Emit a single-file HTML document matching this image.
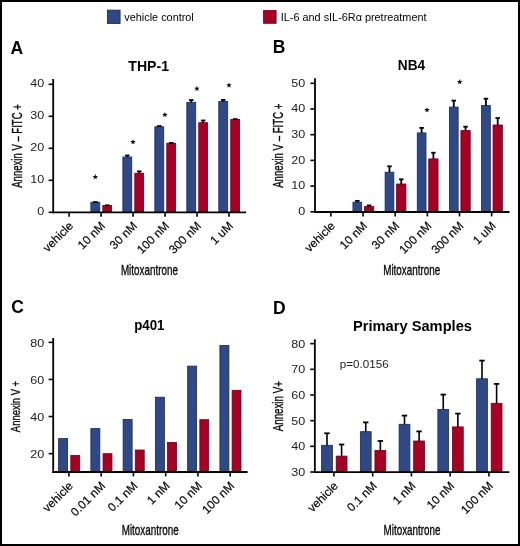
<!DOCTYPE html>
<html><head><meta charset="utf-8"><style>
html,body{margin:0;padding:0;background:#fff;}
body{width:520px;height:546px;overflow:hidden;}
svg{display:block;font-family:"Liberation Sans",sans-serif;will-change:transform;}
</style></head><body>
<svg width="520" height="546" viewBox="0 0 520 546">
<rect x="0" y="0" width="520" height="546" fill="#fff"/>
<text x="10.60" y="53.80" font-size="17.5" text-anchor="start" font-weight="bold" fill="#000">A</text>
<text x="148.70" y="70.80" font-size="14" text-anchor="middle" font-weight="bold" textLength="40.70" lengthAdjust="spacingAndGlyphs" fill="#000">THP-1</text>
<rect x="90.88" y="202.20" width="8.90" height="10.10" fill="#2f4986" stroke="#1a2850" stroke-width="0.8"/>
<rect x="102.83" y="205.40" width="8.85" height="6.90" fill="#a70025" stroke="#6a0018" stroke-width="0.8"/>
<rect x="122.86" y="157.00" width="8.90" height="55.30" fill="#2f4986" stroke="#1a2850" stroke-width="0.8"/>
<rect x="134.81" y="173.20" width="8.85" height="39.10" fill="#a70025" stroke="#6a0018" stroke-width="0.8"/>
<rect x="154.84" y="126.80" width="8.90" height="85.50" fill="#2f4986" stroke="#1a2850" stroke-width="0.8"/>
<rect x="166.79" y="143.20" width="8.85" height="69.10" fill="#a70025" stroke="#6a0018" stroke-width="0.8"/>
<rect x="186.82" y="102.30" width="8.90" height="110.00" fill="#2f4986" stroke="#1a2850" stroke-width="0.8"/>
<rect x="198.77" y="122.70" width="8.85" height="89.60" fill="#a70025" stroke="#6a0018" stroke-width="0.8"/>
<rect x="218.80" y="101.40" width="8.90" height="110.90" fill="#2f4986" stroke="#1a2850" stroke-width="0.8"/>
<rect x="230.75" y="119.40" width="8.85" height="92.90" fill="#a70025" stroke="#6a0018" stroke-width="0.8"/>
<line x1="95.33" y1="202.30" x2="95.33" y2="202.10" stroke="#000" stroke-width="1.8"/>
<line x1="93.08" y1="202.10" x2="97.58" y2="202.10" stroke="#000" stroke-width="1.8"/>
<line x1="107.25" y1="205.50" x2="107.25" y2="205.30" stroke="#000" stroke-width="1.8"/>
<line x1="105.00" y1="205.30" x2="109.50" y2="205.30" stroke="#000" stroke-width="1.8"/>
<line x1="127.31" y1="157.10" x2="127.31" y2="155.50" stroke="#000" stroke-width="1.8"/>
<line x1="125.06" y1="155.50" x2="129.56" y2="155.50" stroke="#000" stroke-width="1.8"/>
<line x1="139.24" y1="173.30" x2="139.24" y2="171.40" stroke="#000" stroke-width="1.8"/>
<line x1="136.99" y1="171.40" x2="141.49" y2="171.40" stroke="#000" stroke-width="1.8"/>
<line x1="159.29" y1="126.90" x2="159.29" y2="126.10" stroke="#000" stroke-width="1.8"/>
<line x1="157.04" y1="126.10" x2="161.54" y2="126.10" stroke="#000" stroke-width="1.8"/>
<line x1="171.22" y1="143.30" x2="171.22" y2="143.00" stroke="#000" stroke-width="1.8"/>
<line x1="168.97" y1="143.00" x2="173.47" y2="143.00" stroke="#000" stroke-width="1.8"/>
<line x1="191.27" y1="102.40" x2="191.27" y2="100.10" stroke="#000" stroke-width="1.8"/>
<line x1="189.02" y1="100.10" x2="193.52" y2="100.10" stroke="#000" stroke-width="1.8"/>
<line x1="203.19" y1="122.80" x2="203.19" y2="120.50" stroke="#000" stroke-width="1.8"/>
<line x1="200.94" y1="120.50" x2="205.44" y2="120.50" stroke="#000" stroke-width="1.8"/>
<line x1="223.25" y1="101.50" x2="223.25" y2="99.90" stroke="#000" stroke-width="1.8"/>
<line x1="221.00" y1="99.90" x2="225.50" y2="99.90" stroke="#000" stroke-width="1.8"/>
<line x1="235.18" y1="119.50" x2="235.18" y2="119.10" stroke="#000" stroke-width="1.8"/>
<line x1="232.93" y1="119.10" x2="237.43" y2="119.10" stroke="#000" stroke-width="1.8"/>
<line x1="53.20" y1="79.00" x2="53.20" y2="213.20" stroke="#000" stroke-width="1.8"/>
<line x1="52.30" y1="212.30" x2="246.10" y2="212.30" stroke="#000" stroke-width="1.8"/>
<line x1="48.60" y1="212.30" x2="53.20" y2="212.30" stroke="#000" stroke-width="1.6"/>
<text x="44.20" y="215.30" font-size="11.8" text-anchor="end" textLength="7.00" lengthAdjust="spacingAndGlyphs" fill="#222">0</text>
<line x1="48.60" y1="180.30" x2="53.20" y2="180.30" stroke="#000" stroke-width="1.6"/>
<text x="44.20" y="183.30" font-size="11.8" text-anchor="end" textLength="14.00" lengthAdjust="spacingAndGlyphs" fill="#222">10</text>
<line x1="48.60" y1="148.30" x2="53.20" y2="148.30" stroke="#000" stroke-width="1.6"/>
<text x="44.20" y="151.30" font-size="11.8" text-anchor="end" textLength="14.00" lengthAdjust="spacingAndGlyphs" fill="#222">20</text>
<line x1="48.60" y1="116.30" x2="53.20" y2="116.30" stroke="#000" stroke-width="1.6"/>
<text x="44.20" y="119.30" font-size="11.8" text-anchor="end" textLength="14.00" lengthAdjust="spacingAndGlyphs" fill="#222">30</text>
<line x1="48.60" y1="84.30" x2="53.20" y2="84.30" stroke="#000" stroke-width="1.6"/>
<text x="44.20" y="87.30" font-size="11.8" text-anchor="end" textLength="14.00" lengthAdjust="spacingAndGlyphs" fill="#222">40</text>
<line x1="69.10" y1="212.30" x2="69.10" y2="216.70" stroke="#000" stroke-width="1.6"/>
<line x1="101.08" y1="212.30" x2="101.08" y2="216.70" stroke="#000" stroke-width="1.6"/>
<line x1="133.06" y1="212.30" x2="133.06" y2="216.70" stroke="#000" stroke-width="1.6"/>
<line x1="165.04" y1="212.30" x2="165.04" y2="216.70" stroke="#000" stroke-width="1.6"/>
<line x1="197.02" y1="212.30" x2="197.02" y2="216.70" stroke="#000" stroke-width="1.6"/>
<line x1="229.00" y1="212.30" x2="229.00" y2="216.70" stroke="#000" stroke-width="1.6"/>
<text x="21.80" y="146.00" font-size="14.5" text-anchor="middle" stroke="#111" stroke-width="0.35" textLength="83.50" lengthAdjust="spacingAndGlyphs" transform="rotate(-90 21.80 146.00)">Annexin V &#8211; FITC +</text>
<text x="73.90" y="226.50" font-size="11.9" text-anchor="end" stroke="#111" stroke-width="0.2" transform="rotate(-45 73.90 226.50)">vehicle</text>
<text x="105.88" y="226.50" font-size="11.9" text-anchor="end" stroke="#111" stroke-width="0.2" transform="rotate(-45 105.88 226.50)">10 nM</text>
<text x="137.86" y="226.50" font-size="11.9" text-anchor="end" stroke="#111" stroke-width="0.2" transform="rotate(-45 137.86 226.50)">30 nM</text>
<text x="169.84" y="226.50" font-size="11.9" text-anchor="end" stroke="#111" stroke-width="0.2" transform="rotate(-45 169.84 226.50)">100 nM</text>
<text x="201.82" y="226.50" font-size="11.9" text-anchor="end" stroke="#111" stroke-width="0.2" transform="rotate(-45 201.82 226.50)">300 nM</text>
<text x="233.80" y="226.50" font-size="11.9" text-anchor="end" stroke="#111" stroke-width="0.2" transform="rotate(-45 233.80 226.50)">1 uM</text>
<text x="149.40" y="274.70" font-size="14.5" text-anchor="middle" stroke="#111" stroke-width="0.35" textLength="57.00" lengthAdjust="spacingAndGlyphs">Mitoxantrone</text>
<polygon points="95.30,174.10 96.02,176.01 98.06,176.10 96.46,177.38 97.00,179.35 95.30,178.22 93.60,179.35 94.14,177.38 92.54,176.10 94.58,176.01" fill="#111"/>
<polygon points="133.00,139.10 133.72,141.01 135.76,141.10 134.16,142.38 134.70,144.35 133.00,143.22 131.30,144.35 131.84,142.38 130.24,141.10 132.28,141.01" fill="#111"/>
<polygon points="164.90,111.90 165.62,113.81 167.66,113.90 166.06,115.18 166.60,117.15 164.90,116.02 163.20,117.15 163.74,115.18 162.14,113.90 164.18,113.81" fill="#111"/>
<polygon points="196.90,85.80 197.62,87.71 199.66,87.80 198.06,89.08 198.60,91.05 196.90,89.92 195.20,91.05 195.74,89.08 194.14,87.80 196.18,87.71" fill="#111"/>
<polygon points="229.00,82.40 229.72,84.31 231.76,84.40 230.16,85.68 230.70,87.65 229.00,86.52 227.30,87.65 227.84,85.68 226.24,84.40 228.28,84.31" fill="#111"/>
<text x="272.80" y="53.20" font-size="17.5" text-anchor="start" font-weight="bold" fill="#000">B</text>
<text x="411.50" y="69.80" font-size="14" text-anchor="middle" font-weight="bold" textLength="27.30" lengthAdjust="spacingAndGlyphs" fill="#000">NB4</text>
<rect x="352.95" y="202.20" width="8.75" height="9.80" fill="#2f4986" stroke="#1a2850" stroke-width="0.8"/>
<rect x="364.45" y="206.60" width="9.30" height="5.40" fill="#a70025" stroke="#6a0018" stroke-width="0.8"/>
<rect x="385.10" y="172.20" width="8.75" height="39.80" fill="#2f4986" stroke="#1a2850" stroke-width="0.8"/>
<rect x="396.60" y="184.00" width="9.30" height="28.00" fill="#a70025" stroke="#6a0018" stroke-width="0.8"/>
<rect x="417.25" y="132.90" width="8.75" height="79.10" fill="#2f4986" stroke="#1a2850" stroke-width="0.8"/>
<rect x="428.75" y="158.90" width="9.30" height="53.10" fill="#a70025" stroke="#6a0018" stroke-width="0.8"/>
<rect x="449.40" y="107.10" width="8.75" height="104.90" fill="#2f4986" stroke="#1a2850" stroke-width="0.8"/>
<rect x="460.90" y="130.60" width="9.30" height="81.40" fill="#a70025" stroke="#6a0018" stroke-width="0.8"/>
<rect x="481.55" y="105.60" width="8.75" height="106.40" fill="#2f4986" stroke="#1a2850" stroke-width="0.8"/>
<rect x="493.05" y="125.00" width="9.30" height="87.00" fill="#a70025" stroke="#6a0018" stroke-width="0.8"/>
<line x1="357.32" y1="202.30" x2="357.32" y2="200.90" stroke="#000" stroke-width="1.8"/>
<line x1="355.07" y1="200.90" x2="359.57" y2="200.90" stroke="#000" stroke-width="1.8"/>
<line x1="369.10" y1="206.70" x2="369.10" y2="205.40" stroke="#000" stroke-width="1.8"/>
<line x1="366.85" y1="205.40" x2="371.35" y2="205.40" stroke="#000" stroke-width="1.8"/>
<line x1="389.47" y1="172.30" x2="389.47" y2="166.30" stroke="#000" stroke-width="1.8"/>
<line x1="387.22" y1="166.30" x2="391.72" y2="166.30" stroke="#000" stroke-width="1.8"/>
<line x1="401.25" y1="184.10" x2="401.25" y2="179.30" stroke="#000" stroke-width="1.8"/>
<line x1="399.00" y1="179.30" x2="403.50" y2="179.30" stroke="#000" stroke-width="1.8"/>
<line x1="421.62" y1="133.00" x2="421.62" y2="127.90" stroke="#000" stroke-width="1.8"/>
<line x1="419.37" y1="127.90" x2="423.87" y2="127.90" stroke="#000" stroke-width="1.8"/>
<line x1="433.40" y1="159.00" x2="433.40" y2="152.70" stroke="#000" stroke-width="1.8"/>
<line x1="431.15" y1="152.70" x2="435.65" y2="152.70" stroke="#000" stroke-width="1.8"/>
<line x1="453.77" y1="107.20" x2="453.77" y2="100.60" stroke="#000" stroke-width="1.8"/>
<line x1="451.52" y1="100.60" x2="456.02" y2="100.60" stroke="#000" stroke-width="1.8"/>
<line x1="465.55" y1="130.70" x2="465.55" y2="126.70" stroke="#000" stroke-width="1.8"/>
<line x1="463.30" y1="126.70" x2="467.80" y2="126.70" stroke="#000" stroke-width="1.8"/>
<line x1="485.92" y1="105.70" x2="485.92" y2="98.70" stroke="#000" stroke-width="1.8"/>
<line x1="483.67" y1="98.70" x2="488.17" y2="98.70" stroke="#000" stroke-width="1.8"/>
<line x1="497.70" y1="125.10" x2="497.70" y2="118.00" stroke="#000" stroke-width="1.8"/>
<line x1="495.45" y1="118.00" x2="499.95" y2="118.00" stroke="#000" stroke-width="1.8"/>
<line x1="315.00" y1="78.20" x2="315.00" y2="212.90" stroke="#000" stroke-width="1.8"/>
<line x1="314.10" y1="212.00" x2="509.50" y2="212.00" stroke="#000" stroke-width="1.8"/>
<line x1="310.40" y1="211.80" x2="315.00" y2="211.80" stroke="#000" stroke-width="1.6"/>
<text x="305.20" y="215.10" font-size="11.8" text-anchor="end" textLength="7.00" lengthAdjust="spacingAndGlyphs" fill="#222">0</text>
<line x1="310.40" y1="186.10" x2="315.00" y2="186.10" stroke="#000" stroke-width="1.6"/>
<text x="305.20" y="189.40" font-size="11.8" text-anchor="end" textLength="14.00" lengthAdjust="spacingAndGlyphs" fill="#222">10</text>
<line x1="310.40" y1="160.40" x2="315.00" y2="160.40" stroke="#000" stroke-width="1.6"/>
<text x="305.20" y="163.70" font-size="11.8" text-anchor="end" textLength="14.00" lengthAdjust="spacingAndGlyphs" fill="#222">20</text>
<line x1="310.40" y1="134.70" x2="315.00" y2="134.70" stroke="#000" stroke-width="1.6"/>
<text x="305.20" y="138.00" font-size="11.8" text-anchor="end" textLength="14.00" lengthAdjust="spacingAndGlyphs" fill="#222">30</text>
<line x1="310.40" y1="109.00" x2="315.00" y2="109.00" stroke="#000" stroke-width="1.6"/>
<text x="305.20" y="112.30" font-size="11.8" text-anchor="end" textLength="14.00" lengthAdjust="spacingAndGlyphs" fill="#222">40</text>
<line x1="310.40" y1="83.30" x2="315.00" y2="83.30" stroke="#000" stroke-width="1.6"/>
<text x="305.20" y="86.60" font-size="11.8" text-anchor="end" textLength="14.00" lengthAdjust="spacingAndGlyphs" fill="#222">50</text>
<line x1="330.90" y1="212.00" x2="330.90" y2="216.40" stroke="#000" stroke-width="1.6"/>
<line x1="363.05" y1="212.00" x2="363.05" y2="216.40" stroke="#000" stroke-width="1.6"/>
<line x1="395.20" y1="212.00" x2="395.20" y2="216.40" stroke="#000" stroke-width="1.6"/>
<line x1="427.35" y1="212.00" x2="427.35" y2="216.40" stroke="#000" stroke-width="1.6"/>
<line x1="459.50" y1="212.00" x2="459.50" y2="216.40" stroke="#000" stroke-width="1.6"/>
<line x1="491.65" y1="212.00" x2="491.65" y2="216.40" stroke="#000" stroke-width="1.6"/>
<text x="283.00" y="145.70" font-size="14.5" text-anchor="middle" stroke="#111" stroke-width="0.35" textLength="84.20" lengthAdjust="spacingAndGlyphs" transform="rotate(-90 283.00 145.70)">Annexin V &#8211; FITC +</text>
<text x="335.70" y="226.50" font-size="11.9" text-anchor="end" stroke="#111" stroke-width="0.2" transform="rotate(-45 335.70 226.50)">vehicle</text>
<text x="367.85" y="226.50" font-size="11.9" text-anchor="end" stroke="#111" stroke-width="0.2" transform="rotate(-45 367.85 226.50)">10 nM</text>
<text x="400.00" y="226.50" font-size="11.9" text-anchor="end" stroke="#111" stroke-width="0.2" transform="rotate(-45 400.00 226.50)">30 nM</text>
<text x="432.15" y="226.50" font-size="11.9" text-anchor="end" stroke="#111" stroke-width="0.2" transform="rotate(-45 432.15 226.50)">100 nM</text>
<text x="464.30" y="226.50" font-size="11.9" text-anchor="end" stroke="#111" stroke-width="0.2" transform="rotate(-45 464.30 226.50)">300 nM</text>
<text x="496.45" y="226.50" font-size="11.9" text-anchor="end" stroke="#111" stroke-width="0.2" transform="rotate(-45 496.45 226.50)">1 uM</text>
<text x="411.70" y="274.50" font-size="14.5" text-anchor="middle" stroke="#111" stroke-width="0.35" textLength="57.00" lengthAdjust="spacingAndGlyphs">Mitoxantrone</text>
<polygon points="427.00,107.10 427.72,109.01 429.76,109.10 428.16,110.38 428.70,112.35 427.00,111.22 425.30,112.35 425.84,110.38 424.24,109.10 426.28,109.01" fill="#111"/>
<polygon points="459.70,79.10 460.42,81.01 462.46,81.10 460.86,82.38 461.40,84.35 459.70,83.22 458.00,84.35 458.54,82.38 456.94,81.10 458.98,81.01" fill="#111"/>
<text x="11.30" y="313.20" font-size="17.5" text-anchor="start" font-weight="bold" fill="#000">C</text>
<text x="149.30" y="329.80" font-size="14" text-anchor="middle" font-weight="bold" textLength="30.30" lengthAdjust="spacingAndGlyphs" fill="#000">p401</text>
<rect x="58.60" y="438.60" width="9.00" height="33.40" fill="#2f4986" stroke="#1a2850" stroke-width="0.8"/>
<rect x="70.80" y="455.50" width="8.90" height="16.50" fill="#a70025" stroke="#6a0018" stroke-width="0.8"/>
<rect x="90.86" y="428.60" width="9.00" height="43.40" fill="#2f4986" stroke="#1a2850" stroke-width="0.8"/>
<rect x="103.06" y="453.70" width="8.90" height="18.30" fill="#a70025" stroke="#6a0018" stroke-width="0.8"/>
<rect x="123.12" y="419.40" width="9.00" height="52.60" fill="#2f4986" stroke="#1a2850" stroke-width="0.8"/>
<rect x="135.32" y="450.00" width="8.90" height="22.00" fill="#a70025" stroke="#6a0018" stroke-width="0.8"/>
<rect x="155.38" y="397.20" width="9.00" height="74.80" fill="#2f4986" stroke="#1a2850" stroke-width="0.8"/>
<rect x="167.58" y="442.50" width="8.90" height="29.50" fill="#a70025" stroke="#6a0018" stroke-width="0.8"/>
<rect x="187.64" y="366.10" width="9.00" height="105.90" fill="#2f4986" stroke="#1a2850" stroke-width="0.8"/>
<rect x="199.84" y="419.70" width="8.90" height="52.30" fill="#a70025" stroke="#6a0018" stroke-width="0.8"/>
<rect x="219.90" y="345.50" width="9.00" height="126.50" fill="#2f4986" stroke="#1a2850" stroke-width="0.8"/>
<rect x="232.10" y="390.30" width="8.90" height="81.70" fill="#a70025" stroke="#6a0018" stroke-width="0.8"/>
<line x1="53.20" y1="338.00" x2="53.20" y2="472.90" stroke="#000" stroke-width="1.8"/>
<line x1="52.30" y1="472.00" x2="247.60" y2="472.00" stroke="#000" stroke-width="1.8"/>
<line x1="48.60" y1="453.65" x2="53.20" y2="453.65" stroke="#000" stroke-width="1.6"/>
<text x="44.20" y="457.90" font-size="11.8" text-anchor="end" textLength="14.00" lengthAdjust="spacingAndGlyphs" fill="#222">20</text>
<line x1="48.60" y1="416.55" x2="53.20" y2="416.55" stroke="#000" stroke-width="1.6"/>
<text x="44.20" y="420.80" font-size="11.8" text-anchor="end" textLength="14.00" lengthAdjust="spacingAndGlyphs" fill="#222">40</text>
<line x1="48.60" y1="379.45" x2="53.20" y2="379.45" stroke="#000" stroke-width="1.6"/>
<text x="44.20" y="383.70" font-size="11.8" text-anchor="end" textLength="14.00" lengthAdjust="spacingAndGlyphs" fill="#222">60</text>
<line x1="48.60" y1="342.35" x2="53.20" y2="342.35" stroke="#000" stroke-width="1.6"/>
<text x="44.20" y="346.60" font-size="11.8" text-anchor="end" textLength="14.00" lengthAdjust="spacingAndGlyphs" fill="#222">80</text>
<line x1="68.90" y1="472.00" x2="68.90" y2="476.40" stroke="#000" stroke-width="1.6"/>
<line x1="101.16" y1="472.00" x2="101.16" y2="476.40" stroke="#000" stroke-width="1.6"/>
<line x1="133.42" y1="472.00" x2="133.42" y2="476.40" stroke="#000" stroke-width="1.6"/>
<line x1="165.68" y1="472.00" x2="165.68" y2="476.40" stroke="#000" stroke-width="1.6"/>
<line x1="197.94" y1="472.00" x2="197.94" y2="476.40" stroke="#000" stroke-width="1.6"/>
<line x1="230.20" y1="472.00" x2="230.20" y2="476.40" stroke="#000" stroke-width="1.6"/>
<text x="20.40" y="406.50" font-size="13.5" text-anchor="middle" stroke="#111" stroke-width="0.35" textLength="51.30" lengthAdjust="spacingAndGlyphs" transform="rotate(-90 20.40 406.50)">Annexin V +</text>
<text x="73.70" y="486.60" font-size="11.9" text-anchor="end" stroke="#111" stroke-width="0.2" transform="rotate(-45 73.70 486.60)">vehicle</text>
<text x="105.96" y="486.60" font-size="11.9" text-anchor="end" stroke="#111" stroke-width="0.2" transform="rotate(-45 105.96 486.60)">0.01 nM</text>
<text x="138.22" y="486.60" font-size="11.9" text-anchor="end" stroke="#111" stroke-width="0.2" transform="rotate(-45 138.22 486.60)">0.1 nM</text>
<text x="170.48" y="486.60" font-size="11.9" text-anchor="end" stroke="#111" stroke-width="0.2" transform="rotate(-45 170.48 486.60)">1 nM</text>
<text x="202.74" y="486.60" font-size="11.9" text-anchor="end" stroke="#111" stroke-width="0.2" transform="rotate(-45 202.74 486.60)">10 nM</text>
<text x="235.00" y="486.60" font-size="11.9" text-anchor="end" stroke="#111" stroke-width="0.2" transform="rotate(-45 235.00 486.60)">100 nM</text>
<text x="150.20" y="534.50" font-size="14.5" text-anchor="middle" stroke="#111" stroke-width="0.35" textLength="57.00" lengthAdjust="spacingAndGlyphs">Mitoxantrone</text>
<text x="272.90" y="314.20" font-size="17.5" text-anchor="start" font-weight="bold" fill="#000">D</text>
<text x="412.50" y="330.50" font-size="14" text-anchor="middle" font-weight="bold" textLength="119.00" lengthAdjust="spacingAndGlyphs" fill="#000">Primary Samples</text>
<rect x="321.60" y="445.30" width="10.80" height="26.80" fill="#2f4986" stroke="#1a2850" stroke-width="0.8"/>
<rect x="336.20" y="456.10" width="10.80" height="16.00" fill="#a70025" stroke="#6a0018" stroke-width="0.8"/>
<rect x="360.35" y="431.70" width="10.80" height="40.40" fill="#2f4986" stroke="#1a2850" stroke-width="0.8"/>
<rect x="374.95" y="450.50" width="10.80" height="21.60" fill="#a70025" stroke="#6a0018" stroke-width="0.8"/>
<rect x="399.10" y="424.30" width="10.80" height="47.80" fill="#2f4986" stroke="#1a2850" stroke-width="0.8"/>
<rect x="413.70" y="441.00" width="10.80" height="31.10" fill="#a70025" stroke="#6a0018" stroke-width="0.8"/>
<rect x="437.85" y="409.50" width="10.80" height="62.60" fill="#2f4986" stroke="#1a2850" stroke-width="0.8"/>
<rect x="452.45" y="426.90" width="10.80" height="45.20" fill="#a70025" stroke="#6a0018" stroke-width="0.8"/>
<rect x="476.60" y="378.80" width="10.80" height="93.30" fill="#2f4986" stroke="#1a2850" stroke-width="0.8"/>
<rect x="491.20" y="403.30" width="10.80" height="68.80" fill="#a70025" stroke="#6a0018" stroke-width="0.8"/>
<line x1="327.00" y1="445.40" x2="327.00" y2="433.30" stroke="#000" stroke-width="1.6"/>
<line x1="324.30" y1="433.30" x2="329.70" y2="433.30" stroke="#000" stroke-width="1.8"/>
<line x1="341.60" y1="456.20" x2="341.60" y2="444.50" stroke="#000" stroke-width="1.6"/>
<line x1="338.90" y1="444.50" x2="344.30" y2="444.50" stroke="#000" stroke-width="1.8"/>
<line x1="365.75" y1="431.80" x2="365.75" y2="422.40" stroke="#000" stroke-width="1.6"/>
<line x1="363.05" y1="422.40" x2="368.45" y2="422.40" stroke="#000" stroke-width="1.8"/>
<line x1="380.35" y1="450.60" x2="380.35" y2="441.00" stroke="#000" stroke-width="1.6"/>
<line x1="377.65" y1="441.00" x2="383.05" y2="441.00" stroke="#000" stroke-width="1.8"/>
<line x1="404.50" y1="424.40" x2="404.50" y2="415.60" stroke="#000" stroke-width="1.6"/>
<line x1="401.80" y1="415.60" x2="407.20" y2="415.60" stroke="#000" stroke-width="1.8"/>
<line x1="419.10" y1="441.10" x2="419.10" y2="431.40" stroke="#000" stroke-width="1.6"/>
<line x1="416.40" y1="431.40" x2="421.80" y2="431.40" stroke="#000" stroke-width="1.8"/>
<line x1="443.25" y1="409.60" x2="443.25" y2="394.60" stroke="#000" stroke-width="1.6"/>
<line x1="440.55" y1="394.60" x2="445.95" y2="394.60" stroke="#000" stroke-width="1.8"/>
<line x1="457.85" y1="427.00" x2="457.85" y2="413.60" stroke="#000" stroke-width="1.6"/>
<line x1="455.15" y1="413.60" x2="460.55" y2="413.60" stroke="#000" stroke-width="1.8"/>
<line x1="482.00" y1="378.90" x2="482.00" y2="360.60" stroke="#000" stroke-width="1.6"/>
<line x1="479.30" y1="360.60" x2="484.70" y2="360.60" stroke="#000" stroke-width="1.8"/>
<line x1="496.60" y1="403.40" x2="496.60" y2="383.90" stroke="#000" stroke-width="1.6"/>
<line x1="493.90" y1="383.90" x2="499.30" y2="383.90" stroke="#000" stroke-width="1.8"/>
<line x1="314.85" y1="339.30" x2="314.85" y2="473.00" stroke="#000" stroke-width="1.8"/>
<line x1="313.95" y1="472.10" x2="509.30" y2="472.10" stroke="#000" stroke-width="1.8"/>
<line x1="310.25" y1="472.00" x2="314.85" y2="472.00" stroke="#000" stroke-width="1.6"/>
<text x="305.20" y="476.00" font-size="11.8" text-anchor="end" textLength="14.00" lengthAdjust="spacingAndGlyphs" fill="#222">30</text>
<line x1="310.25" y1="446.33" x2="314.85" y2="446.33" stroke="#000" stroke-width="1.6"/>
<text x="305.20" y="450.33" font-size="11.8" text-anchor="end" textLength="14.00" lengthAdjust="spacingAndGlyphs" fill="#222">40</text>
<line x1="310.25" y1="420.66" x2="314.85" y2="420.66" stroke="#000" stroke-width="1.6"/>
<text x="305.20" y="424.66" font-size="11.8" text-anchor="end" textLength="14.00" lengthAdjust="spacingAndGlyphs" fill="#222">50</text>
<line x1="310.25" y1="394.99" x2="314.85" y2="394.99" stroke="#000" stroke-width="1.6"/>
<text x="305.20" y="398.99" font-size="11.8" text-anchor="end" textLength="14.00" lengthAdjust="spacingAndGlyphs" fill="#222">60</text>
<line x1="310.25" y1="369.32" x2="314.85" y2="369.32" stroke="#000" stroke-width="1.6"/>
<text x="305.20" y="373.32" font-size="11.8" text-anchor="end" textLength="14.00" lengthAdjust="spacingAndGlyphs" fill="#222">70</text>
<line x1="310.25" y1="343.65" x2="314.85" y2="343.65" stroke="#000" stroke-width="1.6"/>
<text x="305.20" y="347.65" font-size="11.8" text-anchor="end" textLength="14.00" lengthAdjust="spacingAndGlyphs" fill="#222">80</text>
<line x1="333.90" y1="472.10" x2="333.90" y2="476.50" stroke="#000" stroke-width="1.6"/>
<line x1="372.65" y1="472.10" x2="372.65" y2="476.50" stroke="#000" stroke-width="1.6"/>
<line x1="411.40" y1="472.10" x2="411.40" y2="476.50" stroke="#000" stroke-width="1.6"/>
<line x1="450.15" y1="472.10" x2="450.15" y2="476.50" stroke="#000" stroke-width="1.6"/>
<line x1="488.90" y1="472.10" x2="488.90" y2="476.50" stroke="#000" stroke-width="1.6"/>
<text x="283.20" y="406.20" font-size="14.5" text-anchor="middle" stroke="#111" stroke-width="0.35" textLength="50.10" lengthAdjust="spacingAndGlyphs" transform="rotate(-90 283.20 406.20)">Annexin V+</text>
<text x="338.70" y="486.60" font-size="11.9" text-anchor="end" stroke="#111" stroke-width="0.2" transform="rotate(-45 338.70 486.60)">vehicle</text>
<text x="377.45" y="486.60" font-size="11.9" text-anchor="end" stroke="#111" stroke-width="0.2" transform="rotate(-45 377.45 486.60)">0.1 nM</text>
<text x="416.20" y="486.60" font-size="11.9" text-anchor="end" stroke="#111" stroke-width="0.2" transform="rotate(-45 416.20 486.60)">1 nM</text>
<text x="454.95" y="486.60" font-size="11.9" text-anchor="end" stroke="#111" stroke-width="0.2" transform="rotate(-45 454.95 486.60)">10 nM</text>
<text x="493.70" y="486.60" font-size="11.9" text-anchor="end" stroke="#111" stroke-width="0.2" transform="rotate(-45 493.70 486.60)">100 nM</text>
<text x="412.00" y="534.50" font-size="14.5" text-anchor="middle" stroke="#111" stroke-width="0.35" textLength="57.00" lengthAdjust="spacingAndGlyphs">Mitoxantrone</text>
<text x="339.80" y="367.50" font-size="11" text-anchor="start" textLength="48.90" lengthAdjust="spacingAndGlyphs" fill="#222">p=0.0156</text>
<rect x="107.40" y="10.10" width="12.70" height="13.50" fill="#2f4986" stroke="#1a2850" stroke-width="0.8"/>
<text x="124.30" y="20.80" font-size="11" text-anchor="start" textLength="69.50" lengthAdjust="spacingAndGlyphs">vehicle control</text>
<rect x="263.60" y="10.50" width="12.50" height="12.80" fill="#a70025" stroke="#6a0018" stroke-width="0.8"/>
<text x="280.80" y="20.80" font-size="11" text-anchor="start" textLength="145.70" lengthAdjust="spacingAndGlyphs">IL-6 and sIL-6R&#945; pretreatment</text>
<rect x="1" y="1" width="518" height="544" fill="none" stroke="#000" stroke-width="2"/>
</svg>
</body></html>
